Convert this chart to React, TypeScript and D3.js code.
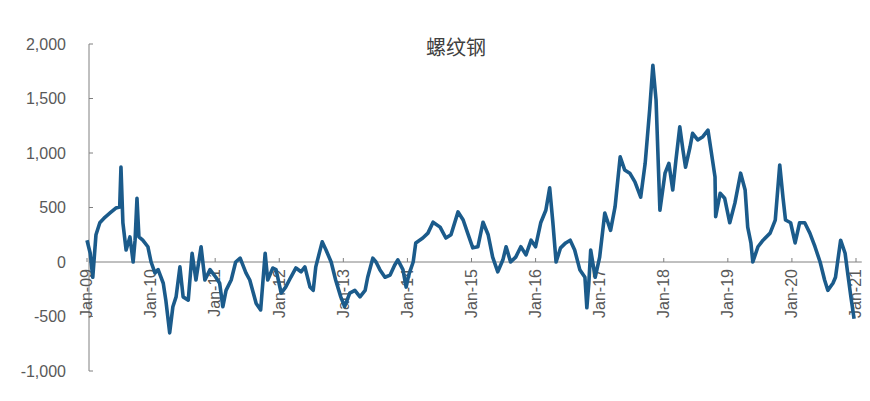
import React from "react";
import * as d3 from "d3";

const title = "螺纹钢";

// decimal year of each observation
const dates: number[] = [
  2009.0, 2009.05, 2009.09, 2009.14, 2009.2, 2009.28, 2009.36, 2009.45, 2009.51, 2009.53,
  2009.56, 2009.61, 2009.67, 2009.72, 2009.75, 2009.78, 2009.81, 2009.87, 2009.95, 2010.0,
  2010.06, 2010.11, 2010.19, 2010.23, 2010.29, 2010.34, 2010.39, 2010.45, 2010.5, 2010.58,
  2010.64, 2010.7, 2010.78, 2010.84, 2010.92, 2011.01, 2011.07, 2011.12, 2011.17, 2011.25,
  2011.32, 2011.39, 2011.48, 2011.54, 2011.64, 2011.71, 2011.78, 2011.82, 2011.9, 2011.95,
  2012.03, 2012.1, 2012.18, 2012.26, 2012.34, 2012.4, 2012.48, 2012.53, 2012.57, 2012.67,
  2012.73, 2012.81, 2012.88, 2012.96, 2013.02, 2013.1, 2013.18, 2013.26, 2013.34, 2013.38,
  2013.46, 2013.51, 2013.57, 2013.65, 2013.73, 2013.8, 2013.85, 2013.93, 2013.98, 2014.02,
  2014.09, 2014.13, 2014.24, 2014.32, 2014.4, 2014.51, 2014.6, 2014.68, 2014.79, 2014.87,
  2014.94, 2015.02, 2015.1, 2015.18, 2015.26, 2015.33, 2015.41, 2015.49, 2015.54, 2015.61,
  2015.69, 2015.77, 2015.85, 2015.93, 2016.0, 2016.08, 2016.16, 2016.22, 2016.27, 2016.32,
  2016.39, 2016.47, 2016.54, 2016.61, 2016.69, 2016.77, 2016.8, 2016.83, 2016.86, 2016.93,
  2017.0, 2017.08, 2017.17, 2017.24, 2017.32, 2017.39, 2017.47, 2017.55, 2017.64, 2017.71,
  2017.78, 2017.83, 2017.88, 2017.94, 2018.02, 2018.08, 2018.14, 2018.19, 2018.25, 2018.3,
  2018.34, 2018.41, 2018.45, 2018.53, 2018.61, 2018.69, 2018.73, 2018.8, 2018.81, 2018.88,
  2018.95, 2019.03, 2019.11, 2019.2, 2019.27, 2019.31, 2019.36, 2019.39, 2019.47, 2019.55,
  2019.66, 2019.74, 2019.81, 2019.86, 2019.9, 2019.98, 2020.05, 2020.12, 2020.2, 2020.28,
  2020.36, 2020.44, 2020.51, 2020.56, 2020.64, 2020.68, 2020.76, 2020.83, 2020.87, 2020.92,
  2020.97,
];

const values: number[] = [
  200, 80, -140, 250, 360, 410, 450, 495, 505, 870,
  360, 110, 230, 0, 200, 585, 230, 200, 140, 0,
  -100, -70, -195, -350, -650, -410, -320, -45, -320, -350,
  80, -165, 140, -165, -70, -140, -195, -410, -260, -165,
  0, 35, -100, -165, -380, -440, 80, -165, -55, -70,
  -285, -230, -140, -55, -90, -45, -230, -260, -45, 185,
  110, 0, -165, -320, -410, -285, -260, -320, -260, -140,
  35, 0, -70, -140, -120, -30, 20, -70, -230, -120,
  0, 175, 220, 265, 365, 320, 220, 250, 460, 385,
  265, 130, 140, 365, 250, 45, -90, 20, 140, 0,
  45, 140, 65, 200, 140, 360, 475, 680, 360, 0,
  130, 175, 200, 110, -70, -140, -420, -200, 110, -140,
  45, 450, 290, 505, 965, 845, 815, 735, 595, 905,
  1395, 1805, 1485, 475, 815, 905, 660, 935, 1240, 1025,
  870, 1055, 1180, 1120, 1150, 1210, 1055, 780, 415, 630,
  585, 360, 540, 815, 660, 320, 175, 0, 140, 200,
  265, 385, 890, 595, 385, 360, 175, 360, 360, 265,
  140, 0, -165, -260, -195, -140, 200, 80, -100, -320,
  -520,
];

const yTicks: number[] = [-1000, -500, 0, 500, 1000, 1500, 2000];
const xTickYears: number[] = [2009, 2010, 2011, 2012, 2013, 2014, 2015, 2016, 2017, 2018, 2019, 2020, 2021];
const xTickLabels: string[] = [
  "Jan-09", "Jan-10", "Jan-11", "Jan-12", "Jan-13", "Jan-14", "Jan-15",
  "Jan-16", "Jan-17", "Jan-18", "Jan-19", "Jan-20", "Jan-21",
];

const W = 870;
const H = 401;
const axisColor = "#808080";
const labelColor = "#595959";
const lineColor = "#1b5b8b";
const font = "'Liberation Sans', Arial, sans-serif";

const locale = d3.formatLocale({ decimal: ".", thousands: ",", grouping: [3], currency: ["", ""], minus: "-" });
const fmt = locale.format(",");

export default function App() {
  const x = d3.scaleLinear().domain([2009, 2021]).range([87, 856]);
  const y = d3.scaleLinear().domain([-1000, 2000]).range([371, 44]);
  const axisX = 89;
  const xEnd = x(2021.09);

  const data = dates.map((d, i) => [d, values[i]] as [number, number]);
  const line = d3
    .line<[number, number]>()
    .x((d) => x(d[0]))
    .y((d) => y(d[1]));

  return (
    <svg
      width={W}
      height={H}
      style={{ position: "absolute", left: 0, top: 0, background: "#fff" }}
      fontFamily={font}
    >
      <rect x={0} y={0} width={W} height={H} fill="#fff" />
      <text
        x={456}
        y={55}
        textAnchor="middle"
        fontSize={20}
        fill="#404040"
        fontFamily="'Noto Sans CJK SC', sans-serif"
      >
        {title}
      </text>

      {/* y axis */}
      <line x1={axisX} x2={axisX} y1={y(2000)} y2={y(-1000)} stroke={axisColor} strokeWidth={1} />
      {yTicks.map((t) => (
        <g key={t}>
          <line x1={axisX} x2={axisX + 4} y1={y(t)} y2={y(t)} stroke={axisColor} strokeWidth={1} />
          <text x={66} y={y(t)} dy="0.35em" textAnchor="end" fontSize={16} fill={labelColor}>
            {fmt(t)}
          </text>
        </g>
      ))}

      {/* x axis (zero line) */}
      <line x1={axisX} x2={xEnd} y1={y(0)} y2={y(0)} stroke={axisColor} strokeWidth={1} />
      {xTickYears.map((yr, i) => (
        <g key={yr}>
          <line x1={x(yr)} x2={x(yr)} y1={y(0)} y2={y(0) - 4} stroke={axisColor} strokeWidth={1} />
          <text
            transform={`translate(${x(yr)},${y(0) + 7}) rotate(-90)`}
            dy="0.33em"
            textAnchor="end"
            fontSize={16}
            fill={labelColor}
          >
            {xTickLabels[i]}
          </text>
        </g>
      ))}

      <path d={line(data) || ""} fill="none" stroke={lineColor} strokeWidth={3.6} strokeLinejoin="round" />
    </svg>
  );
}
